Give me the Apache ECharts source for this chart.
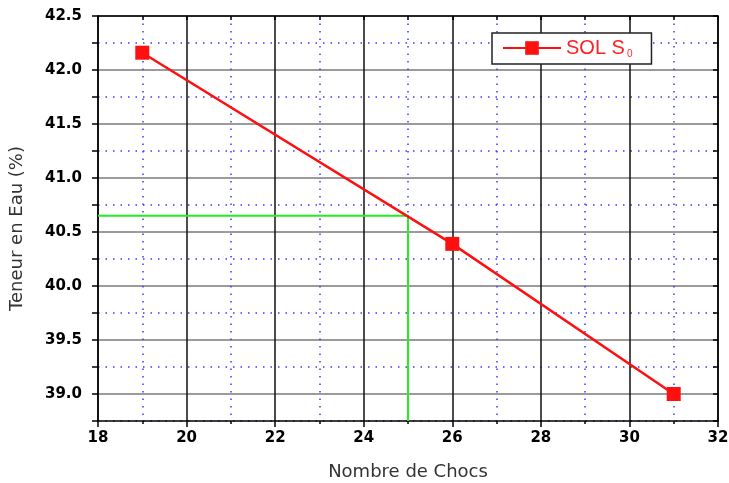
<!DOCTYPE html>
<html>
<head>
<meta charset="utf-8">
<script src="https://cdn.jsdelivr.net/npm/echarts@6/dist/echarts.min.js"></script>
<style>
  html, body { margin: 0; padding: 0; background: #fff; }
  #chart { width: 729px; height: 483px; }
</style>
</head>
<body>
<div id="chart"></div>
<script>
// Nombre de Chocs vs Teneur en Eau
var chocs = [19, 26, 31]
var teneur = [42.16, 40.39, 39.0]
// lecture a 25 coups
var guideX = [18, 25, 25]
var guideY = [40.65, 40.65, 38.75]
var xTicks = { min: 18, max: 32, step: 2 }
var yTicks = { min: 38.75, max: 42.5, step: 0.25 }

var chart = echarts.init(document.getElementById('chart'))

var labelFont = {
  color: '#000',
  fontWeight: 'bold',
  fontSize: 15,
  fontFamily: 'DejaVu Sans, sans-serif'
}

chart.setOption({
  animation: false,
  grid: { left: 98, right: 11, top: 16, bottom: 62, containLabel: false, outerBoundsMode: 'none' },
  legend: {
    data: ['SOL S0'],
    left: 492,
    top: 33,
    padding: [5, 19, 5, 10],
    itemWidth: 58,
    itemHeight: 17,
    itemGap: 0,
    backgroundColor: '#fff',
    borderColor: '#222',
    borderWidth: 1.5,
    formatter: function () { return '{a|SOL S}{b|0}' },
    textStyle: {
      rich: {
        a: { color: '#ff2020', fontSize: 20, fontFamily: 'Liberation Sans, Arial, sans-serif' },
        b: { color: '#ff3030', fontSize: 10, padding: [12, 0, 0, 2], fontFamily: 'Liberation Sans, Arial, sans-serif' }
      }
    }
  },
  xAxis: [{
    type: 'value',
    min: xTicks.min,
    max: xTicks.max,
    interval: xTicks.step,
    name: 'Nombre de Chocs',
    nameLocation: 'middle',
    nameGap: 42,
    nameTextStyle: { color: '#333', fontSize: 18, fontFamily: 'DejaVu Sans, sans-serif' },
    axisLine: { lineStyle: { color: '#000', width: 1.5 } },
    axisTick: { inside: false, length: 6, lineStyle: { color: '#000', width: 1.5 } },
    minorTick: { show: true, splitNumber: 2, length: 3, lineStyle: { color: '#000', width: 1.5 } },
    axisLabel: Object.assign({ margin: 10 }, labelFont),
    splitLine: { lineStyle: { color: '#111', width: 1.5 } },
    minorSplitLine: { show: true, lineStyle: { color: '#3b3bff', width: 1.5, type: [1.5, 6] } }
  }, {
    type: 'value',
    position: 'top',
    min: xTicks.min,
    max: xTicks.max,
    interval: xTicks.step / 2,
    axisLine: { lineStyle: { color: '#000', width: 1.5 } },
    axisTick: { inside: true, length: 4, lineStyle: { color: '#000', width: 1.5 } },
    axisLabel: { show: false },
    splitLine: { show: false }
  }],
  yAxis: [{
    type: 'value',
    min: yTicks.min,
    max: yTicks.max,
    interval: yTicks.step,
    name: 'Teneur en Eau (%)',
    nameLocation: 'middle',
    nameGap: 72,
    nameTextStyle: { color: '#333', fontSize: 18, fontFamily: 'DejaVu Sans, sans-serif', padding: [0, 20, 0, 0] },
    axisLine: { lineStyle: { color: '#000', width: 1.5 } },
    axisTick: { inside: false, length: 6, lineStyle: { color: '#000', width: 1.5 } },
    axisLabel: Object.assign({
      margin: 16,
      formatter: function (v) {
        return Math.abs(v * 2 - Math.round(v * 2)) < 1e-6 ? v.toFixed(1) : ''
      }
    }, labelFont),
    splitLine: { lineStyle: { color: ['rgba(0,0,0,0)', '#7a7a7a'], width: 1.5 } }
  }, {
    type: 'value',
    position: 'right',
    min: yTicks.min,
    max: yTicks.max,
    interval: yTicks.step,
    axisLine: { show: true, lineStyle: { color: '#000', width: 1.5 } },
    axisTick: { show: true, inside: true, length: 5, lineStyle: { color: '#000', width: 1.5 } },
    axisLabel: { show: false },
    splitLine: { lineStyle: { color: ['#3b3bff', 'rgba(0,0,0,0)'], width: 1.5, type: [1.5, 6] } }
  }],
  series: [{
    name: 'lecture',
    type: 'line',
    data: guideX.map(function (x, i) { return [x, guideY[i]] }),
    showSymbol: false,
    silent: true,
    lineStyle: { color: '#22ee22', width: 2 },
    z: 3
  }, {
    name: 'SOL S0',
    type: 'line',
    data: chocs.map(function (x, i) { return [x, teneur[i]] }),
    symbol: 'rect',
    symbolSize: 14,
    itemStyle: { color: '#ff1010' },
    lineStyle: { color: '#ff1010', width: 2.5 },
    z: 4
  }]
})
</script>
</body>
</html>
